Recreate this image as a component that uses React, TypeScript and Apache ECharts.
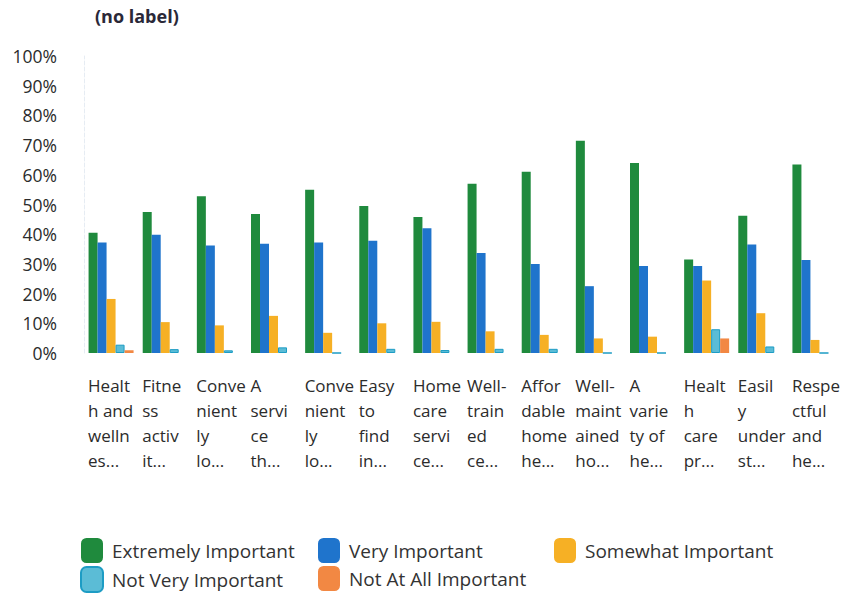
import React, { useEffect, useRef } from "react";
import * as echarts from "echarts";

const categories = [
  "Healt\nh and\nwelln\nes...",
  "Fitne\nss\nactiv\nit...",
  "Conve\nnient\nly\nlo...",
  "A\nservi\nce\nth...",
  "Conve\nnient\nly\nlo...",
  "Easy\nto\nfind\nin...",
  "Home\ncare\nservi\nce...",
  "Well-\ntrain\ned\nce...",
  "Affor\ndable\nhome\nhe...",
  "Well-\nmaint\nained\nho...",
  "A\nvarie\nty of\nhe...",
  "Healt\nh\ncare\npr...",
  "Easil\ny\nunder\nst...",
  "Respe\nctful\nand\nhe...",
];

const seriesNames = [
  "Extremely Important",
  "Very Important",
  "Somewhat Important",
  "Not Very Important",
  "Not At All Important",
];

const extremely = [40.5, 47.5, 52.8, 46.8, 55, 49.5, 45.8, 57, 61, 71.5, 64, 31.5, 46.2, 63.5];
const very = [37.2, 39.8, 36.2, 36.8, 37.2, 37.8, 42, 33.7, 30, 22.5, 29.3, 29.3, 36.5, 31.3];
const somewhat = [18.2, 10.4, 9.3, 12.5, 6.8, 10, 10.5, 7.3, 6.1, 4.9, 5.5, 24.4, 13.4, 4.4];
const notVery = [2.8, 1.3, 0.9, 1.9, 0, 1.4, 1, 1.4, 1.4, 0, 0, 8, 2.2, 0];
const notAtAll = [0.9, 0, 0, 0, 0, 0, 0, 0, 0, 0, 0, 4.9, 0, 0];

const yTicks = [0, 10, 20, 30, 40, 50, 60, 70, 80, 90, 100];

const colors = ["#1f8a3d", "#1f74cc", "#f6b025", "#5bbcd6", "#f28843"];
const borders = ["#1f8a3d", "#1f74cc", "#f6b025", "#1d9cc4", "#f28843"];

const FONT = "'Open Sans', sans-serif";

export default function App() {
  const ref = useRef<HTMLDivElement>(null);

  useEffect(() => {
    document.body.style.margin = "0";
    const chart = echarts.init(ref.current!, null, { renderer: "svg" });
    const allData = [extremely, very, somewhat, notVery, notAtAll];
    const legendCols = [
      { left: 80, names: [seriesNames[0], seriesNames[3]] },
      { left: 318, names: [seriesNames[1], seriesNames[4]] },
      { left: 554, names: [seriesNames[2]] },
    ];
    chart.setOption({
      animation: false,
      backgroundColor: "#ffffff",
      title: {
        text: "(no label)",
        left: 95,
        top: 7,
        padding: 0,
        textStyle: { fontFamily: FONT, fontSize: 18, fontWeight: "bold", color: "#2a2838" },
      },
      legend: legendCols.map((c) => ({
        orient: "vertical",
        left: c.left,
        top: 538,
        height: 57,
        padding: 0,
        itemWidth: 22,
        itemHeight: 25,
        itemGap: 3,
        icon: "roundRect",
        data: c.names,
        selectedMode: false,
        textStyle: { fontFamily: FONT, fontSize: 19, color: "#333333", padding: [0, 0, 0, 4] },
      })),
      grid: { left: 84, right: 4, top: 56, bottom: 242, containLabel: false },
      xAxis: {
        type: "category",
        data: categories,
        axisLine: { show: false },
        axisTick: { show: false },
        axisLabel: {
          interval: 0,
          margin: 20,
          width: 46,
          overflow: "none",
          align: "center",
          formatter: (v: string) =>
            v
              .split("\n")
              .map((l) => `{a|${l}}`)
              .join("\n"),
          rich: {
            a: { fontFamily: FONT, fontSize: 17, lineHeight: 25, color: "#2b2b2b", align: "left" },
          },
        },
      },
      yAxis: {
        type: "value",
        min: yTicks[0],
        max: yTicks[yTicks.length - 1],
        interval: 10,
        axisLine: { show: true, lineStyle: { color: "#e6ecf3", width: 1, type: "dashed" } },
        axisTick: { show: false },
        splitLine: { show: false },
        axisLabel: {
          margin: 27,
          fontFamily: FONT,
          fontSize: 17.5,
          color: "#2b2b2b",
          formatter: (v: number) => `${v}%`,
        },
      },
      series: seriesNames.map((name, i) => ({
        name,
        type: "bar",
        data: allData[i],
        barWidth: 9,
        barGap: "0%",
        itemStyle: {
          color: colors[i],
          borderColor: borders[i],
          borderWidth: i === 3 ? 1 : 0,
        },
      })),
      color: colors,
    });
    return () => chart.dispose();
  }, []);

  return <div ref={ref} style={{ width: 846, height: 595 }} />;
}
